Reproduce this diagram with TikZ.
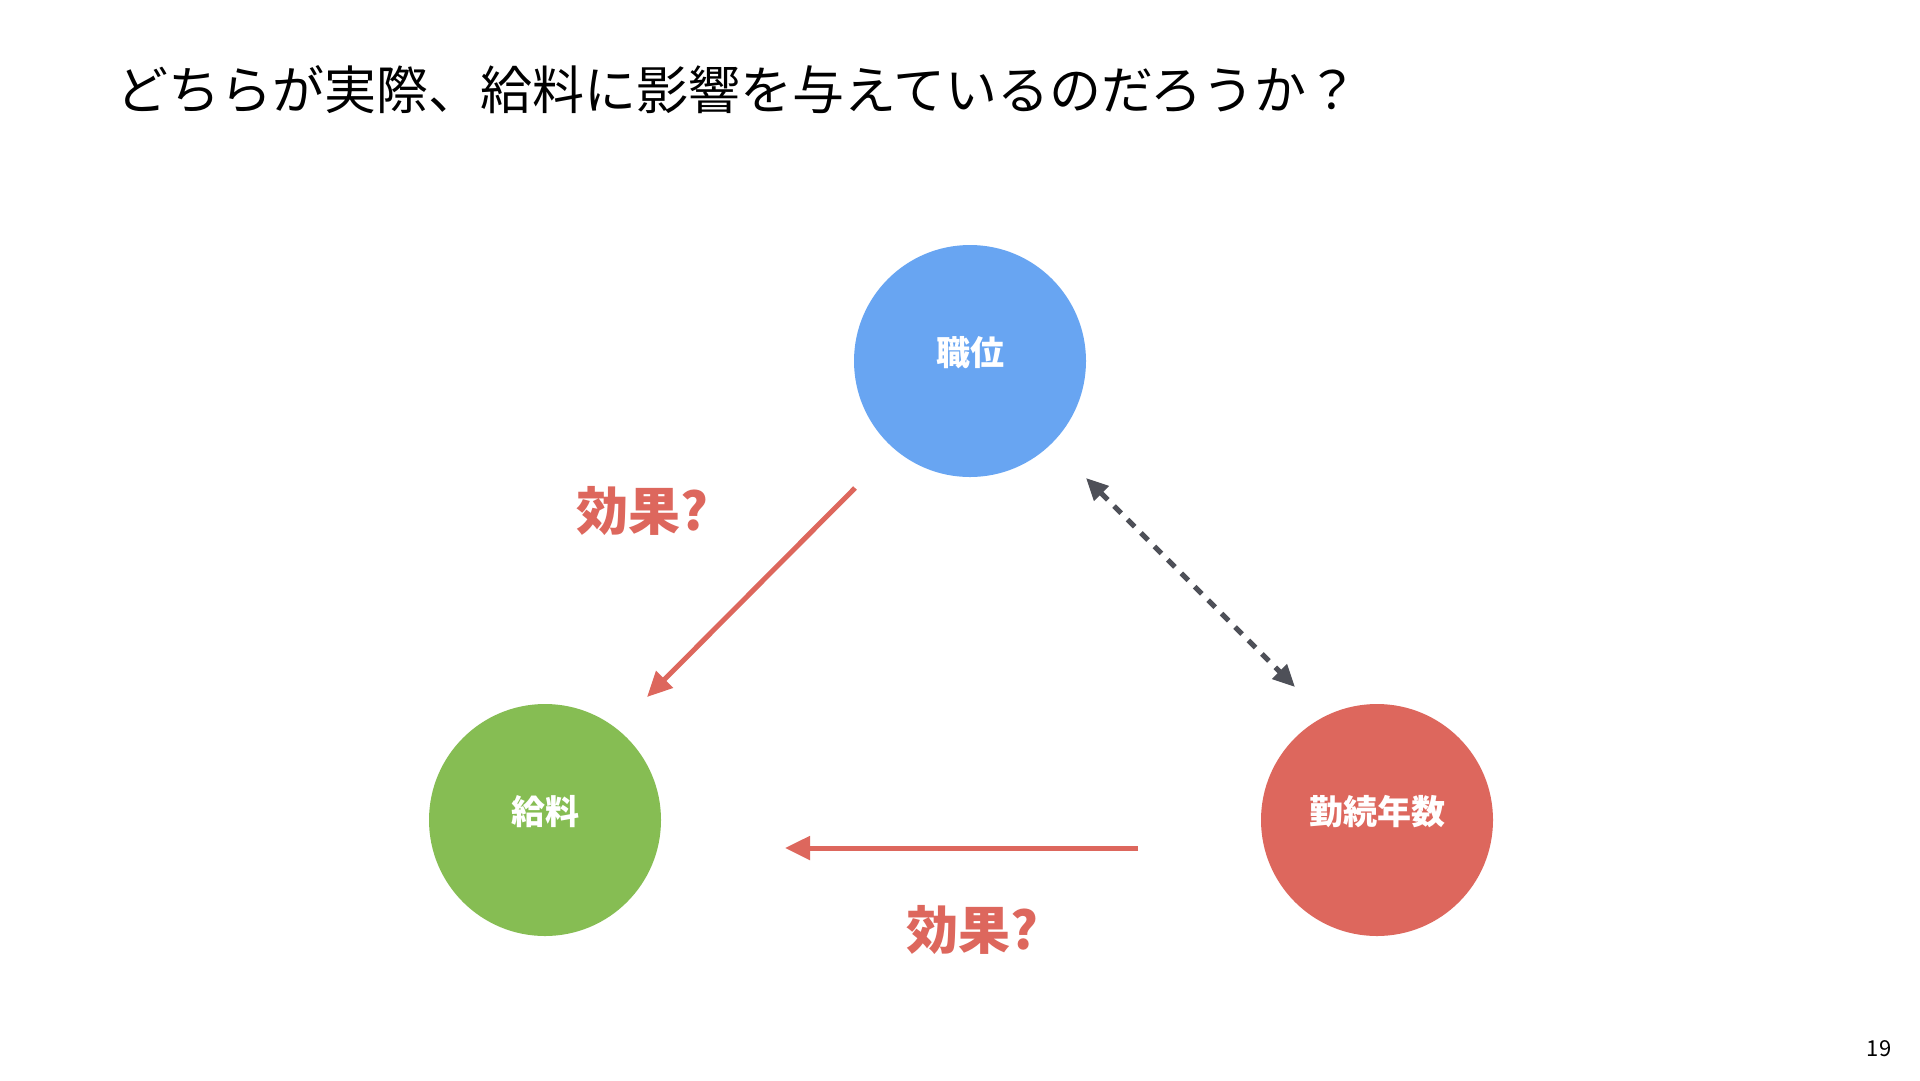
\documentclass[tikz,border=0pt]{standalone}
\usepackage{fontspec}
\setmainfont{Noto Sans CJK JP}
\usetikzlibrary{arrows.meta}

\definecolor{posblue}{RGB}{104,165,242}
\definecolor{paygreen}{RGB}{134,189,83}
\definecolor{yearred}{RGB}{221,103,93}
\definecolor{linkgray}{RGB}{78,80,88}

\tikzset{
  factor/.style={circle, minimum size=232pt, inner sep=0pt},
  factortext/.style={font=\fontsize{34}{40}\selectfont\bfseries, text=white, yshift=8pt},
  effect/.style={yearred, line width=5pt, -{Triangle[length=25pt,width=23pt]}},
  effectlabel/.style={text=yearred, font=\fontsize{52}{60}\selectfont\bfseries, inner sep=0pt},
  corr/.style={linkgray, line width=5pt, dash pattern=on 10pt off 9pt,
    {Triangle[length=22pt,width=20pt]}-{Triangle[length=22pt,width=20pt]}}
}

\begin{document}
\begin{tikzpicture}[x=1pt, y=-1pt]
  \fill[white] (0,0) rectangle (1920,1080);
  \useasboundingbox (0,0) rectangle (1920,1080);

  \node[anchor=west, inner sep=0pt, font=\fontsize{52}{60}\selectfont] (title) at (116,90)
    {どちらが実際、給料に影響を与えているのだろうか？};

  \node[factor, fill=posblue, label={[factortext]center:職位}] (shokui) at (970,361) {};
  \node[factor, fill=paygreen, label={[factortext]center:給料}] (kyuryo) at (545,820) {};
  \node[factor, fill=yearred, label={[factortext]center:勤続年数}] (kinzoku) at (1377,820) {};

  \coordinate (e1s) at (855,488);
  \coordinate (e1e) at (647,697);
  \coordinate (e2s) at (1138,848);
  \coordinate (e2e) at (785,848);
  \coordinate (c1) at (1086,478);
  \coordinate (c2) at (1295,687);

  \draw[effect] (e1s) -- (e1e);
  \draw[effect] (e2s) -- (e2e);
  \draw[corr] (c1) -- (c2);

  \node[effectlabel] (eff1) at (642,511) {効果?};
  \node[effectlabel] (eff2) at (972,930) {効果?};

  \node[font=\fontsize{22}{26}\selectfont, inner sep=0pt] (page) at (1879,1049) {19};
\end{tikzpicture}
\end{document}
